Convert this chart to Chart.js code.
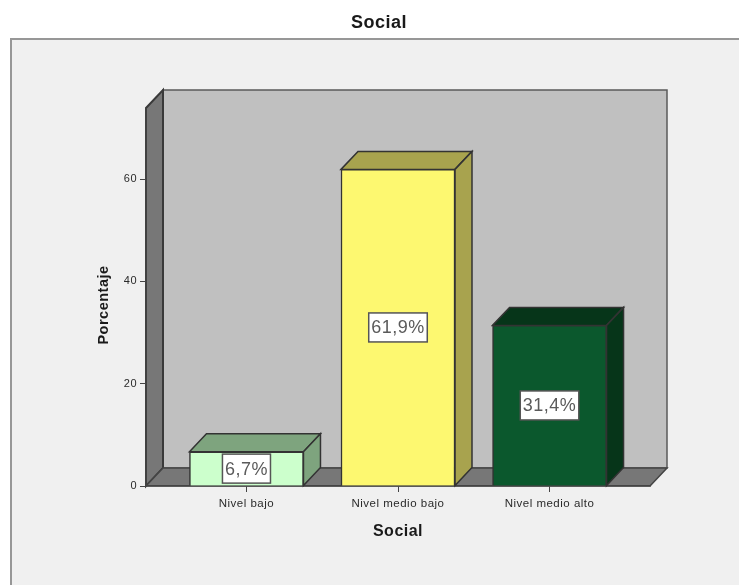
<!DOCTYPE html>
<html><head><meta charset="utf-8">
<style>html,body{margin:0;padding:0;background:#fff}canvas{display:block;filter:blur(0.45px)}</style>
<script src="https://cdn.jsdelivr.net/npm/chart.js@4"></script></head>
<body><canvas id="c" width="739" height="585"></canvas>
<script>
const categories = ['Nivel bajo','Nivel medio bajo','Nivel medio alto'];
const values = [6.7,61.9,31.4];
const frontColors = ['#ccffcc','#fdf870','#0b582d'];
const shadeColors = ['#7ea47e','#a8a34e','#063519'];
const yTicks = [0,20,40,60];
const depthX = 17, depthY = 18;
const FONT = '"Liberation Sans", Arial, sans-serif';
const EDGE = '#333333';

function poly(ctx, pts, fill, stroke, lw){
  ctx.beginPath();
  pts.forEach((p,i)=> i ? ctx.lineTo(p[0],p[1]) : ctx.moveTo(p[0],p[1]));
  ctx.closePath();
  ctx.fillStyle = fill; ctx.fill();
  ctx.strokeStyle = stroke; ctx.lineWidth = lw; ctx.stroke();
}
const box3d = {
  id:'box3d',
  afterLayout(chart){
    chart.titleBlock.left = 19; chart.titleBlock.right = 739;
    chart.scales.y.bottom += 16;
  },
  beforeDraw(chart){
    const ctx = chart.ctx, a = chart.chartArea;
    ctx.letterSpacing = '0.5px';
    ctx.save();
    ctx.fillStyle = '#fff'; ctx.fillRect(0,0,739,585);
    ctx.fillStyle = '#f0f0f0'; ctx.fillRect(11,39,728,546);
    ctx.strokeStyle = '#979797'; ctx.lineWidth = 2;
    ctx.beginPath(); ctx.moveTo(11,585); ctx.lineTo(11,39); ctx.lineTo(739,39); ctx.stroke();
    const l=a.left, r=a.right, t=a.top, b=a.bottom, dx=depthX, dy=depthY;
    poly(ctx,[[l+dx,t-dy],[r+dx,t-dy],[r+dx,b-dy],[l+dx,b-dy]],'#c0c0c0','#5a5a5a',1.5);
    poly(ctx,[[l,t],[l+dx,t-dy],[l+dx,b-dy],[l,b]],'#777777','#3a3a3a',2);
    poly(ctx,[[l,b],[l+dx,b-dy],[r+dx,b-dy],[r,b]],'#777777','#444444',1.5);
    ctx.restore();
  },
  beforeDatasetsDraw(chart){
    const ctx = chart.ctx, dx=depthX, dy=depthY;
    ctx.save();
    chart.getDatasetMeta(0).data.forEach((bar,i)=>{
      const l=bar.x-bar.width/2, r=bar.x+bar.width/2, t=bar.y, b=bar.base;
      poly(ctx,[[l,t],[l+dx,t-dy],[r+dx,t-dy],[r,t]],shadeColors[i],EDGE,1.5);
      poly(ctx,[[r,t],[r+dx,t-dy],[r+dx,b-dy],[r,b]],shadeColors[i],EDGE,1.5);
    });
    ctx.restore();
  },
  afterDatasetsDraw(chart){
    const ctx = chart.ctx;
    ctx.save();
    ctx.font = '18px '+FONT;
    ctx.textAlign='center'; ctx.textBaseline='middle';
    chart.getDatasetMeta(0).data.forEach((bar,i)=>{
      const s = values[i].toFixed(1).replace('.',',')+'%';
      const w = ctx.measureText(s).width+5, h = 29;
      const cy = (bar.y+bar.base)/2;
      ctx.fillStyle='#fff'; ctx.strokeStyle='#555'; ctx.lineWidth=1.5;
      ctx.fillRect(bar.x-w/2,cy-h/2,w,h); ctx.strokeRect(bar.x-w/2,cy-h/2,w,h);
      ctx.fillStyle='#5a5a5a'; ctx.fillText(s,bar.x,cy+1);
    });
    ctx.restore();
  },
  afterDraw(chart){
    const ctx = chart.ctx, a = chart.chartArea;
    ctx.save();
    ctx.strokeStyle='#444'; ctx.lineWidth=1.5;
    ctx.beginPath(); ctx.moveTo(a.left,a.top); ctx.lineTo(a.left,a.bottom); ctx.stroke();
    ctx.restore();
  }
};
new Chart(document.getElementById('c'),{
  type:'bar',
  data:{datasets:[{
    data:categories.map((c,i)=>({x:i,y:values[i]})),
    backgroundColor:frontColors,
    borderColor:EDGE,borderWidth:1.5,
    barThickness:114
  }]},
  plugins:[box3d],
  options:{
    responsive:false,animation:false,
    layout:{autoPadding:false,padding:{left:88,right:89,top:0,bottom:44}},
    plugins:{
      legend:{display:false},tooltip:{enabled:false},
      title:{display:true,text:'Social',color:'#1a1a1a',
        font:{family:FONT,size:18,weight:'bold',lineHeight:1.2},
        padding:{top:12.4,bottom:74}}
    },
    scales:{
      x:{type:'linear',offset:false,min:-0.663,max:2.663,
        afterBuildTicks(s){s.ticks=categories.map((c,i)=>({value:i}));},
        afterFit(s){s.height=55;},
        grid:{display:true,offset:false,drawOnChartArea:false,tickLength:6,tickColor:'#444'},
        border:{color:'#444',width:1.5},
        ticks:{autoSkip:false,maxRotation:0,padding:5,color:'#2a2a2a',includeBounds:false,
          font:{family:FONT,size:11.5},callback:v=>categories[v]},
        title:{display:true,text:'Social',color:'#1a1a1a',
          font:{family:FONT,size:16,weight:'bold',lineHeight:1.2},padding:{top:0,bottom:0}}
      },
      y:{min:0,max:73.9,
        afterBuildTicks(s){s.ticks=yTicks.map(v=>({value:v}));},
        afterFit(s){s.width=58;},
        grid:{display:true,drawOnChartArea:false,tickLength:6,tickColor:'#444'},
        border:{display:false},
        ticks:{padding:3,color:'#2a2a2a',font:{family:FONT,size:11}},
        title:{display:true,text:'Porcentaje',color:'#1a1a1a',
          font:{family:FONT,size:14.5,weight:'bold',lineHeight:1.2},padding:{top:7,bottom:0}}
      }
    }
  }
});
</script></body></html>
